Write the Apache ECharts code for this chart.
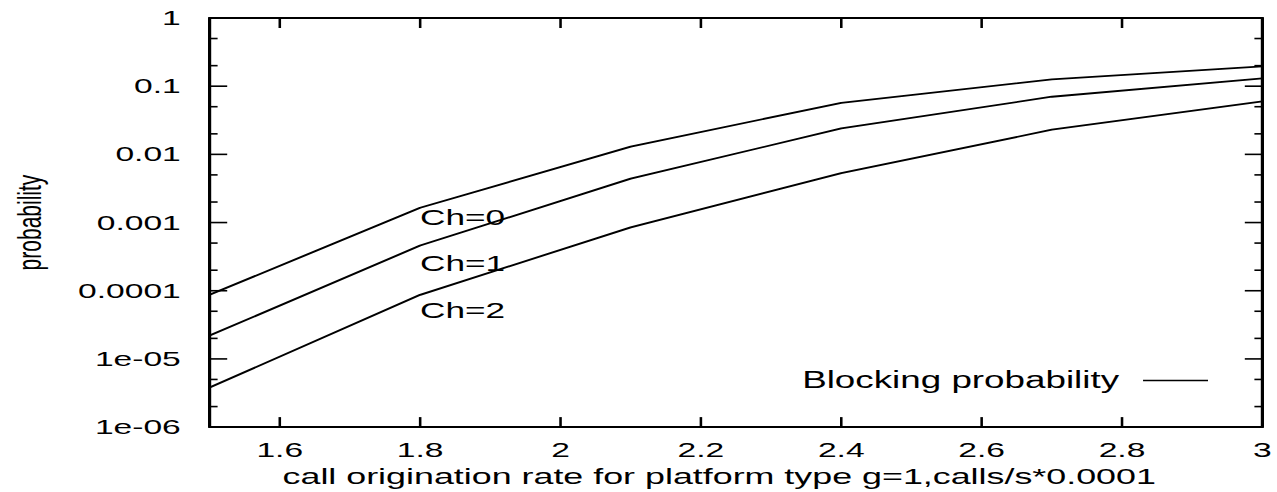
<!DOCTYPE html>
<html>
<head>
<meta charset="utf-8">
<script src="https://cdn.jsdelivr.net/npm/echarts@6/dist/echarts.min.js"></script>
<style>
html,body{margin:0;padding:0;background:#fff;overflow:hidden;}
#wrap{width:1277px;height:492px;overflow:hidden;background:#fff;}
#chart{width:798px;height:492px;transform:scaleX(1.6);transform-origin:0 0;}
</style>
</head>
<body>
<div id="wrap"><div id="chart"></div></div>
<script>
// ---- data ----
const xValues = [1.5, 1.8, 2.1, 2.4, 2.7, 3.0];
const ch0 = [8.7e-5, 1.65e-3, 0.013, 0.057, 0.126, 0.195];
const ch1 = [2.2e-5, 4.6e-4, 0.0044, 0.024, 0.070, 0.130];
const ch2 = [3.8e-6, 8.7e-5, 8.5e-4, 0.0053, 0.023, 0.060];
const seriesNames = ['Ch=0', 'Ch=1', 'Ch=2'];
const xTicks = [1.6, 1.8, 2.0, 2.2, 2.4, 2.6, 2.8, 3.0];
const yTickValues = [1e-6, 1e-5, 1e-4, 1e-3, 1e-2, 1e-1, 1];
const yTickLabels = ['1e-06', '1e-05', '0.0001', '0.001', '0.01', '0.1', '1'];
const yMinorTicks = [2e-6, 5e-6, 2e-5, 5e-5, 2e-4, 5e-4, 2e-3, 5e-3, 2e-2, 5e-2, 0.2, 0.5];
const legendName = 'Blocking probability';
const xTitle = 'call origination rate for platform type g=1,calls/s*0.0001';
const yTitle = 'probability';

const X_MIN = 1.5, X_MAX = 3, Y_MIN = 1e-6, Y_MAX = 1;
const FONT = '"Liberation Sans", Arial, Helvetica, sans-serif';
const BLACK = '#000';

function pairs(ys) { return xValues.map((x, i) => [x, ys[i]]); }
function yLabel(v) {
  const e = Math.round(Math.log10(v));
  const idx = yTickValues.findIndex(t => Math.round(Math.log10(t)) === e);
  return idx >= 0 ? yTickLabels[idx] : '';
}

const chart = echarts.init(document.getElementById('chart'), null, {renderer: 'svg'});

function yAxisOf(pos) {
  const left = pos === 'left';
  return {
    type: 'log', logBase: 10, min: Y_MIN, max: Y_MAX, position: pos,
    name: left ? yTitle : '', nameLocation: 'middle', nameRotate: 90, nameGap: 102,
    nameTextStyle: {fontFamily: FONT, fontSize: 21, color: BLACK},
    axisLine: {show: true, onZero: false, lineStyle: {color: BLACK, width: 2}},
    axisTick: {show: false}, minorTick: {show: false},
    axisLabel: {show: left, fontFamily: FONT, fontSize: 21, color: BLACK, margin: 18, formatter: yLabel},
    splitLine: {show: false}, minorSplitLine: {show: false}
  };
}
function xAxisOf(pos) {
  const bottom = pos === 'bottom';
  return {
    type: 'value', min: X_MIN, max: X_MAX, position: pos,
    name: bottom ? xTitle : '', nameLocation: 'middle', nameGap: 33,
    nameTextStyle: {fontFamily: FONT, fontSize: 22.4, color: BLACK, padding: [0, 21, 0, 0]},
    axisLine: {show: true, onZero: false, lineStyle: {color: BLACK, width: 2}},
    axisTick: {show: false},
    axisLabel: {show: bottom, fontFamily: FONT, fontSize: 21, color: BLACK, margin: 12,
      customValues: xTicks},
    splitLine: {show: false}
  };
}

// tick marks drawn through the axes' own scales (api.coord)
function xTickSeries() {
  return {
    type: 'custom', name: 'xticks', silent: true, z: 5, clip: false,
    data: xTicks.map(v => [v, Y_MIN]),
    renderItem: function (params, api) {
      const v = api.value(0);
      const b = api.coord([v, Y_MIN]);
      const t = api.coord([v, Y_MAX]);
      const st = {stroke: BLACK, lineWidth: 1.6};
      return {type: 'group', children: [
        {type: 'line', shape: {x1: b[0], y1: b[1], x2: b[0], y2: b[1] - 10}, style: st},
        {type: 'line', shape: {x1: t[0], y1: t[1], x2: t[0], y2: t[1] + 10}, style: st}
      ]};
    }
  };
}
function yTickSeries(values, len) {
  return {
    type: 'custom', name: 'yticks' + len, silent: true, z: 5, clip: false,
    data: values.map(v => [X_MIN, v]),
    renderItem: function (params, api) {
      const v = api.value(1);
      const l = api.coord([X_MIN, v]);
      const r = api.coord([X_MAX, v]);
      const st = {stroke: BLACK, lineWidth: 1.6};
      return {type: 'group', children: [
        {type: 'line', shape: {x1: l[0], y1: l[1], x2: l[0] + len, y2: l[1]}, style: st},
        {type: 'line', shape: {x1: r[0], y1: r[1], x2: r[0] - len, y2: r[1]}, style: st}
      ]};
    }
  };
}

const series = [ch0, ch1, ch2].map((d, i) => ({
  name: legendName,
  id: seriesNames[i],
  type: 'line',
  data: pairs(d),
  xAxisIndex: 0, yAxisIndex: 0,
  symbol: 'none',
  color: BLACK,
  lineStyle: {color: BLACK, width: 1.8},
  animation: false
}));
series.push(xTickSeries(), yTickSeries(yTickValues, 11), yTickSeries(yMinorTicks, 5));

chart.setOption({
  animation: false,
  grid: {left: 129, right: 9, top: 18, bottom: 60},
  xAxis: [xAxisOf('bottom'), xAxisOf('top')],
  yAxis: [yAxisOf('left'), yAxisOf('right')],
  legend: {
    data: [legendName], right: 38, top: 364, align: 'right', orient: 'horizontal',
    icon: 'rect', itemWidth: 40.6, itemHeight: 1.6,
    textStyle: {fontFamily: FONT, fontSize: 23, color: BLACK, padding: [0, 10, 0, 0]},
    itemStyle: {color: BLACK}, selectedMode: false
  },
  graphic: [
    {type: 'text', left: 262.5, top: 218 - 12, style: {text: seriesNames[0], font: '22px ' + FONT, fill: BLACK}},
    {type: 'text', left: 262.5, top: 264 - 12, style: {text: seriesNames[1], font: '22px ' + FONT, fill: BLACK}},
    {type: 'text', left: 262.5, top: 311 - 12, style: {text: seriesNames[2], font: '22px ' + FONT, fill: BLACK}}
  ],
  series: series
});
</script>
</body>
</html>
